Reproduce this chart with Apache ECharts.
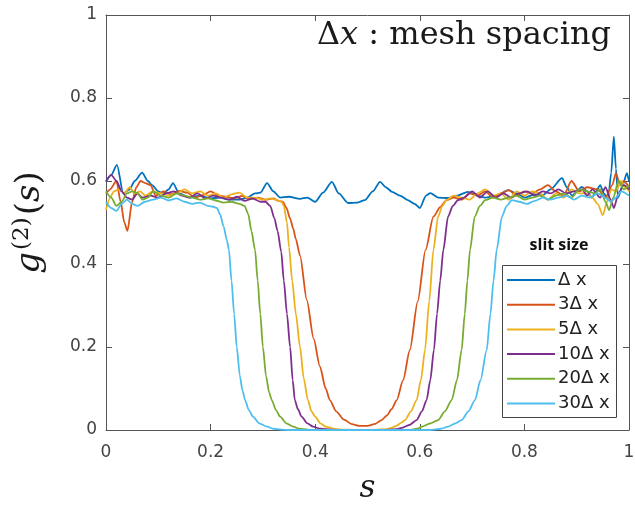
<!DOCTYPE html>
<html>
<head>
<meta charset="utf-8">
<script src="https://cdn.jsdelivr.net/npm/echarts@6/dist/echarts.min.js"></script>
<style>
  html, body { margin: 0; padding: 0; background: #fff; }
  #chart { width: 635px; height: 505px; }
</style>
</head>
<body>
<div id="chart"></div>
<script>
// Second-order correlation g2(s) across the screen, one curve per slit size.
const seriesNames = ['\u0394 x', '3\u0394 x', '5\u0394 x', '10\u0394 x', '20\u0394 x', '30\u0394 x'];
const seriesColors = ['#0072BD', '#D95319', '#EDB120', '#7E2F8E', '#77AC30', '#4DBEEE'];
const xTicks = [0, 0.2, 0.4, 0.6, 0.8, 1];
const yTicks = [0, 0.2, 0.4, 0.6, 0.8, 1];

// slit = 1 dx
const g2Slit1 = [
  [0,0.598],[0.01,0.615],[0.021,0.639],[0.033,0.57],[0.045,0.58],[0.055,0.6],[0.069,0.62],[0.08,0.6],
  [0.088,0.59],[0.1,0.575],[0.109,0.57],[0.12,0.58],[0.128,0.595],[0.14,0.57],[0.16,0.56],[0.18,0.565],
  [0.2,0.558],[0.218,0.56],[0.235,0.555],[0.256,0.555],[0.27,0.56],[0.285,0.57],[0.295,0.572],[0.308,0.595],
  [0.32,0.575],[0.333,0.56],[0.35,0.562],[0.371,0.557],[0.385,0.56],[0.4,0.55],[0.415,0.572],[0.432,0.598],
  [0.445,0.57],[0.463,0.547],[0.48,0.548],[0.495,0.554],[0.51,0.575],[0.524,0.598],[0.535,0.585],[0.547,0.574],
  [0.562,0.565],[0.577,0.554],[0.59,0.545],[0.6,0.535],[0.612,0.565],[0.62,0.571],[0.635,0.56],[0.654,0.559],
  [0.672,0.565],[0.692,0.574],[0.71,0.565],[0.725,0.56],[0.748,0.565],[0.769,0.578],[0.785,0.57],[0.801,0.56],
  [0.82,0.568],[0.834,0.565],[0.85,0.58],[0.872,0.607],[0.881,0.585],[0.891,0.565],[0.91,0.586],[0.92,0.575],
  [0.929,0.56],[0.937,0.575],[0.945,0.59],[0.952,0.57],[0.96,0.555],[0.966,0.62],[0.971,0.707],[0.975,0.63],
  [0.979,0.56],[0.988,0.59],[0.996,0.619],[1,0.6]
];

// slit = 3 dx
const g2Slit3 = [
  [0,0.57],[0.008,0.58],[0.02,0.6],[0.028,0.55],[0.035,0.5],[0.041,0.48],[0.05,0.55],[0.058,0.585],
  [0.066,0.6],[0.075,0.595],[0.085,0.59],[0.095,0.565],[0.11,0.575],[0.125,0.568],[0.14,0.576],[0.155,0.572],
  [0.17,0.56],[0.185,0.566],[0.2,0.575],[0.215,0.565],[0.23,0.562],[0.245,0.558],[0.26,0.564],[0.275,0.556],
  [0.29,0.56],[0.305,0.555],[0.32,0.558],[0.33,0.552],[0.338,0.55],
  [0.345,0.535],[0.352,0.51],[0.358,0.485],[0.363,0.46],[0.371,0.42],[0.384,0.313],[0.397,0.22],[0.409,0.153],
  [0.42,0.1],[0.428,0.072],[0.44,0.045],[0.455,0.025],[0.47,0.014],[0.485,0.01],[0.5,0.01],[0.515,0.015],
  [0.527,0.024],[0.537,0.035],[0.546,0.05],[0.556,0.072],[0.568,0.12],[0.581,0.193],[0.596,0.31],[0.611,0.434],
  [0.626,0.514],[0.639,0.537],[0.651,0.554],
  [0.665,0.56],[0.68,0.555],[0.695,0.57],[0.71,0.565],[0.725,0.575],[0.74,0.56],[0.755,0.57],[0.77,0.578],
  [0.785,0.565],[0.8,0.575],[0.815,0.57],[0.83,0.58],[0.845,0.59],[0.86,0.575],[0.875,0.565],[0.89,0.6],
  [0.905,0.575],[0.92,0.585],[0.94,0.58],[0.955,0.56],[0.968,0.59],[0.975,0.619],[0.983,0.59],[0.99,0.6],[1,0.585]
];

// slit = 5 dx
const g2Slit5 = [
  [0,0.53],[0.008,0.56],[0.015,0.575],[0.025,0.58],[0.035,0.57],[0.045,0.585],[0.055,0.57],[0.065,0.575],
  [0.075,0.565],[0.09,0.575],[0.105,0.57],[0.12,0.565],[0.135,0.57],[0.15,0.58],[0.165,0.57],[0.18,0.575],
  [0.195,0.565],[0.21,0.57],[0.225,0.56],[0.24,0.568],[0.255,0.572],[0.27,0.56],[0.285,0.56],[0.3,0.555],
  [0.315,0.558],[0.325,0.555],[0.336,0.55],
  [0.34,0.54],[0.346,0.5],[0.35,0.44],[0.356,0.36],[0.363,0.28],[0.371,0.2],[0.378,0.125],[0.386,0.072],
  [0.393,0.045],[0.4,0.032],[0.41,0.016],[0.42,0.008],[0.435,0.003],[0.45,0.001],[0.5,0],[0.535,0.002],
  [0.546,0.005],[0.555,0.01],[0.565,0.018],[0.572,0.024],[0.583,0.045],[0.594,0.072],[0.602,0.12],[0.61,0.193],
  [0.618,0.31],[0.626,0.434],[0.635,0.514],[0.643,0.54],[0.651,0.554],
  [0.665,0.565],[0.68,0.56],[0.695,0.555],[0.71,0.57],[0.725,0.58],[0.74,0.565],[0.755,0.57],[0.77,0.555],
  [0.785,0.575],[0.8,0.565],[0.815,0.575],[0.83,0.57],[0.845,0.555],[0.86,0.57],[0.875,0.56],[0.89,0.58],
  [0.905,0.57],[0.92,0.57],[0.93,0.56],[0.94,0.545],[0.95,0.518],[0.958,0.55],[0.966,0.58],[0.975,0.575],
  [0.985,0.6],[0.993,0.585],[1,0.575]
];

// slit = 10 dx
const g2Slit10 = [
  [0,0.6],[0.01,0.615],[0.02,0.6],[0.03,0.575],[0.04,0.56],[0.05,0.555],[0.06,0.57],[0.07,0.56],
  [0.085,0.565],[0.1,0.56],[0.115,0.57],[0.13,0.575],[0.145,0.565],[0.16,0.56],[0.175,0.57],[0.19,0.558],
  [0.205,0.565],[0.22,0.56],[0.235,0.555],[0.25,0.562],[0.265,0.552],[0.28,0.558],[0.295,0.55],
  [0.305,0.55],[0.314,0.54],[0.322,0.51],[0.328,0.48],[0.335,0.43],[0.34,0.36],[0.346,0.28],[0.352,0.2],
  [0.357,0.12],[0.361,0.072],[0.367,0.05],[0.374,0.032],[0.385,0.016],[0.396,0.008],[0.41,0.003],[0.43,0.001],
  [0.45,0],[0.53,0],[0.555,0.002],[0.565,0.005],[0.58,0.012],[0.594,0.024],[0.604,0.045],[0.613,0.072],
  [0.62,0.12],[0.627,0.193],[0.633,0.28],[0.639,0.36],[0.645,0.434],[0.654,0.514],[0.663,0.54],[0.673,0.554],
  [0.685,0.56],[0.7,0.575],[0.715,0.56],[0.73,0.575],[0.745,0.56],[0.76,0.57],[0.775,0.56],[0.79,0.57],
  [0.805,0.575],[0.82,0.565],[0.835,0.575],[0.85,0.57],[0.865,0.58],[0.88,0.57],[0.895,0.575],[0.91,0.58],
  [0.92,0.565],[0.93,0.58],[0.945,0.56],[0.955,0.585],[0.965,0.555],[0.971,0.535],[0.98,0.57],[0.99,0.59],[1,0.58]
];

// slit = 20 dx
const g2Slit20 = [
  [0,0.575],[0.01,0.56],[0.02,0.54],[0.03,0.55],[0.04,0.57],[0.05,0.575],[0.06,0.57],[0.07,0.555],
  [0.08,0.56],[0.09,0.575],[0.105,0.565],[0.12,0.56],[0.135,0.57],[0.15,0.565],[0.165,0.56],[0.18,0.555],
  [0.195,0.558],[0.21,0.553],[0.225,0.548],[0.24,0.55],[0.255,0.545],
  [0.265,0.54],[0.272,0.52],[0.278,0.48],[0.285,0.434],[0.29,0.36],[0.295,0.28],[0.3,0.2],[0.306,0.13],
  [0.312,0.09],[0.317,0.072],[0.325,0.048],[0.333,0.032],[0.345,0.016],[0.358,0.008],[0.37,0.003],[0.385,0.001],
  [0.4,0],[0.58,0],[0.595,0.003],[0.604,0.008],[0.62,0.016],[0.635,0.024],[0.648,0.045],[0.661,0.072],
  [0.671,0.12],[0.68,0.193],[0.686,0.28],[0.691,0.36],[0.696,0.434],[0.705,0.514],[0.715,0.54],[0.725,0.554],
  [0.74,0.56],[0.755,0.555],[0.77,0.56],[0.785,0.565],[0.8,0.555],[0.815,0.56],[0.83,0.565],[0.845,0.555],
  [0.86,0.565],[0.875,0.57],[0.89,0.56],[0.905,0.58],[0.92,0.575],[0.935,0.57],[0.945,0.58],[0.955,0.55],
  [0.962,0.53],[0.97,0.56],[0.98,0.6],[0.99,0.58],[1,0.59]
];

// slit = 30 dx
const g2Slit30 = [
  [0,0.55],[0.01,0.535],[0.02,0.528],[0.03,0.545],[0.04,0.555],[0.05,0.545],[0.06,0.54],[0.075,0.55],
  [0.09,0.555],[0.105,0.56],[0.12,0.553],[0.135,0.558],[0.15,0.55],[0.165,0.545],[0.18,0.548],[0.195,0.54],
  [0.205,0.538],
  [0.212,0.535],[0.218,0.52],[0.225,0.49],[0.231,0.458],[0.235,0.434],[0.24,0.36],[0.245,0.28],[0.25,0.2],
  [0.256,0.13],[0.261,0.095],[0.266,0.072],[0.273,0.048],[0.281,0.032],[0.293,0.016],[0.308,0.008],[0.32,0.003],
  [0.335,0.001],[0.35,0],[0.62,0],[0.64,0.003],[0.654,0.008],[0.668,0.016],[0.68,0.024],[0.693,0.045],
  [0.7055,0.072],[0.716,0.12],[0.728,0.193],[0.735,0.28],[0.741,0.36],[0.747,0.434],[0.757,0.514],[0.766,0.54],
  [0.776,0.554],
  [0.79,0.55],[0.805,0.545],[0.82,0.552],[0.835,0.56],[0.85,0.555],[0.865,0.56],[0.88,0.565],[0.895,0.555],
  [0.91,0.565],[0.925,0.56],[0.94,0.57],[0.955,0.56],[0.965,0.55],[0.975,0.56],[0.985,0.575],[1,0.565]
];

const seriesData = [g2Slit1, g2Slit3, g2Slit5, g2Slit10, g2Slit20, g2Slit30];

const chart = echarts.init(document.getElementById('chart'), null, { renderer: 'canvas' });

const axisColor = '#555555';
const labelColor = '#444444';
const labelFont = 'DejaVu Sans, sans-serif';
const mathFont = 'DejaVu Serif, serif';

function boxAxis(extra) {
  return Object.assign({
    type: 'value',
    min: 0,
    max: 1,
    interval: 0.2,
    axisLine: { show: true, onZero: false, lineStyle: { color: axisColor, width: 1 } },
    axisTick: { show: true, inside: true, length: 6, lineStyle: { color: axisColor } },
    splitLine: { show: false }
  }, extra);
}

const pick = ticks => v => {
  const hit = ticks.find(t => Math.abs(t - v) < 1e-9);
  return hit === undefined ? '' : String(hit);
};

chart.setOption({
  animation: false,
  backgroundColor: '#ffffff',
  grid: { left: 106, top: 15, width: 523, height: 415, containLabel: false, outerBoundsMode: 'none' },
  xAxis: [
    boxAxis({
      position: 'bottom',
      axisLabel: { color: labelColor, fontSize: 17, fontFamily: labelFont, margin: 14, formatter: pick(xTicks) },
      name: '{s|s}',
      nameLocation: 'middle',
      nameGap: 43,
      nameTextStyle: { rich: { s: { fontFamily: mathFont, fontStyle: 'italic', fontSize: 31, color: '#1a1a1a' } } }
    }),
    boxAxis({ position: 'top', axisLabel: { show: false } })
  ],
  yAxis: [
    boxAxis({
      position: 'left',
      axisLabel: { color: labelColor, fontSize: 17, fontFamily: labelFont, margin: 9, formatter: pick(yTicks) },
      name: '{i|g}{sup|(2)}{r|(}{i|s}{r|)}',
      nameLocation: 'middle',
      nameRotate: 90,
      nameGap: 56,
      nameTextStyle: {
        rich: {
          i: { fontFamily: mathFont, fontStyle: 'italic', fontSize: 34, color: '#1a1a1a' },
          r: { fontFamily: mathFont, fontSize: 34, color: '#1a1a1a' },
          sup: { fontFamily: mathFont, fontSize: 23, color: '#1a1a1a', verticalAlign: 'top', padding: [0, 2, 16, 2] }
        }
      }
    }),
    boxAxis({ position: 'right', axisLabel: { show: false } })
  ],
  legend: {
    left: 507,
    top: 270,
    orient: 'vertical',
    icon: 'rect',
    itemWidth: 48,
    itemHeight: 2,
    itemGap: 4.7,
    padding: 0,
    textStyle: { color: '#222222', fontSize: 18, lineHeight: 20, fontFamily: labelFont, padding: [0, 0, 0, -2] },
    data: seriesNames
  },
  graphic: [
    {
      type: 'rect',
      left: 502, top: 265,
      shape: { width: 114, height: 152 },
      style: { fill: 'rgba(0,0,0,0)', stroke: '#444444', lineWidth: 1 },
      z: 100
    },
    {
      type: 'text',
      x: 559, y: 245,
      style: { text: 'slit size', fontFamily: 'Open Sans, Noto Sans, sans-serif', fontWeight: 'bold', fontSize: 16,
        fill: '#111111', align: 'center', verticalAlign: 'middle' },
      z: 100
    },
    {
      type: 'text',
      left: 317, top: 20,
      style: {
        text: '{r|\u0394}{i|x}{r| : mesh spacing}',
        rich: {
          r: { fontFamily: mathFont, fontSize: 32, fill: '#1a1a1a' },
          i: { fontFamily: mathFont, fontStyle: 'italic', fontSize: 32, fill: '#1a1a1a' }
        }
      },
      z: 100
    }
  ],
  series: seriesData.map((d, i) => ({
    name: seriesNames[i],
    type: 'line',
    data: d,
    xAxisIndex: 0,
    yAxisIndex: 0,
    symbol: 'none',
    smooth: 0.25,
    smoothMonotone: 'x',
    lineStyle: { color: seriesColors[i], width: 1.8 },
    itemStyle: { color: seriesColors[i] },
    clip: true
  }))
});
</script>
</body>
</html>
